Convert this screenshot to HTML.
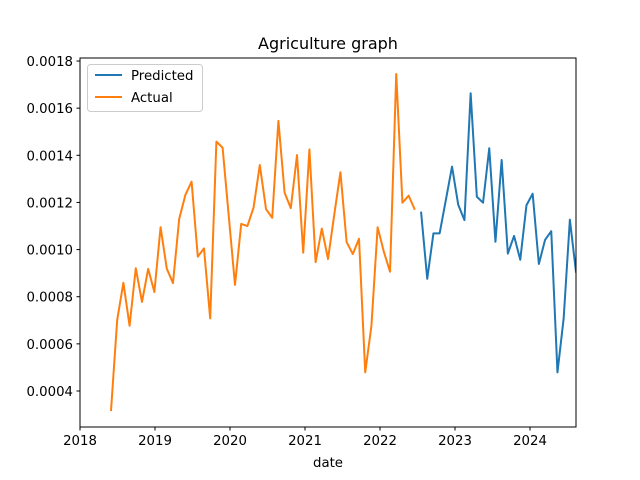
<!DOCTYPE html>
<html><head><meta charset="utf-8"><style>
html,body{margin:0;padding:0;background:#fff}
svg{display:block;font-family:"DejaVu Sans","Liberation Sans",sans-serif}
</style></head><body>
<svg id="chart" width="640" height="480" viewBox="0 0 640 480">
<rect x="0" y="0" width="640" height="480" fill="#fff"/>
<text x="328" y="49" text-anchor="middle" font-size="16">Agriculture graph</text>
<defs><clipPath id="clip"><rect x="80" y="58" width="496" height="369"/></clipPath></defs>
<g id="series" clip-path="url(#clip)"></g>
<rect x="80" y="58" width="496" height="369" fill="none" stroke="#000" stroke-width="1"/>
<g id="xticks"></g><g id="yticks"></g>
<text x="328" y="467" text-anchor="middle" font-size="13.3">date</text>
<g>
<rect x="87.5" y="64.5" width="115" height="47" rx="3" fill="#fff" fill-opacity="0.8" stroke="#ccc"/>
<line x1="95" y1="75" x2="122" y2="75" stroke="#1f77b4" stroke-width="2"/>
<text x="131" y="80" font-size="13.3">Predicted</text>
<line x1="95" y1="97" x2="122" y2="97" stroke="#ff7f0e" stroke-width="2"/>
<text x="131" y="102" font-size="13.3">Actual</text>
</g>
</svg>
<script>
const seriesStartYear = 2018.413;
const stepDays = 30.2;
const actualValues = [0.000315,0.000701,0.000859,0.000677,0.000921,0.000778,0.000918,0.00082,0.001095,0.000919,0.000858,0.00113,0.001232,0.001288,0.00097,0.001005,0.000708,0.001458,0.001432,0.00114,0.00085,0.001109,0.0011,0.001179,0.001359,0.001172,0.001135,0.001546,0.001241,0.001176,0.001401,0.000987,0.001425,0.000947,0.001089,0.00096,0.001147,0.001328,0.001032,0.000981,0.001046,0.000479,0.000677,0.001095,0.000991,0.000906,0.001745,0.001199,0.001229,0.001169];
const predictedValues = [0.001161,0.000876,0.001069,0.001069,0.00121,0.001352,0.00119,0.001125,0.001663,0.001224,0.001199,0.00143,0.001033,0.00138,0.000983,0.001058,0.000957,0.001188,0.001237,0.000939,0.001041,0.001078,0.000479,0.000708,0.001127,0.000902];
const xTickLabels = ["2018","2019","2020","2021","2022","2023","2024"];
const yTickValues = [0.0004,0.0006,0.0008,0.0010,0.0012,0.0014,0.0016,0.0018];

const NS = "http://www.w3.org/2000/svg";
function xScale(t){ return 80 + (t - 2018) * 75; }
function yScale(v){ return 391 - (v - 0.0004) / 0.0002 * 47.14; }
function idxT(i){ return seriesStartYear + i * stepDays / 365.25; }

const xt = document.getElementById('xticks');
xTickLabels.forEach(function(lab){
  const x = xScale(parseFloat(lab));
  const l = document.createElementNS(NS,'line');
  l.setAttribute('x1',x);l.setAttribute('x2',x);l.setAttribute('y1',427);l.setAttribute('y2',430.5);l.setAttribute('stroke','#000');
  
  
  xt.appendChild(l);
  const t = document.createElementNS(NS,'text');
  t.setAttribute('x',x);t.setAttribute('y',445);t.setAttribute('text-anchor','middle');t.setAttribute('font-size','13.3');
  t.textContent = lab;
  
  
  xt.appendChild(t);
});
const yt = document.getElementById('yticks');
yTickValues.forEach(function(v){
  const y = yScale(v);
  const l = document.createElementNS(NS,'line');
  l.setAttribute('x1',76.5);l.setAttribute('x2',80);l.setAttribute('y1',y);l.setAttribute('y2',y);l.setAttribute('stroke','#000');
  
  
  yt.appendChild(l);
  const t = document.createElementNS(NS,'text');
  t.setAttribute('x',73);t.setAttribute('y',y+5);t.setAttribute('text-anchor','end');t.setAttribute('font-size','13.3');
  t.textContent = v.toFixed(4);
  
  
  yt.appendChild(t);
});
function drawLine(offset, vals, color, name){
  const pts = vals.map(function(v,i){ return xScale(idxT(offset+i)).toFixed(2)+','+yScale(v).toFixed(2); }).join(' ');
  const p = document.createElementNS(NS,'polyline');
  p.setAttribute('points',pts);p.setAttribute('fill','none');p.setAttribute('stroke',color);p.setAttribute('stroke-width','2');p.setAttribute('stroke-linejoin','round');
  
  
  document.getElementById('series').appendChild(p);
}
drawLine(actualValues.length, predictedValues, '#1f77b4', 'predicted-line');
drawLine(0, actualValues, '#ff7f0e', 'actual-line');
</script>
</body></html>
